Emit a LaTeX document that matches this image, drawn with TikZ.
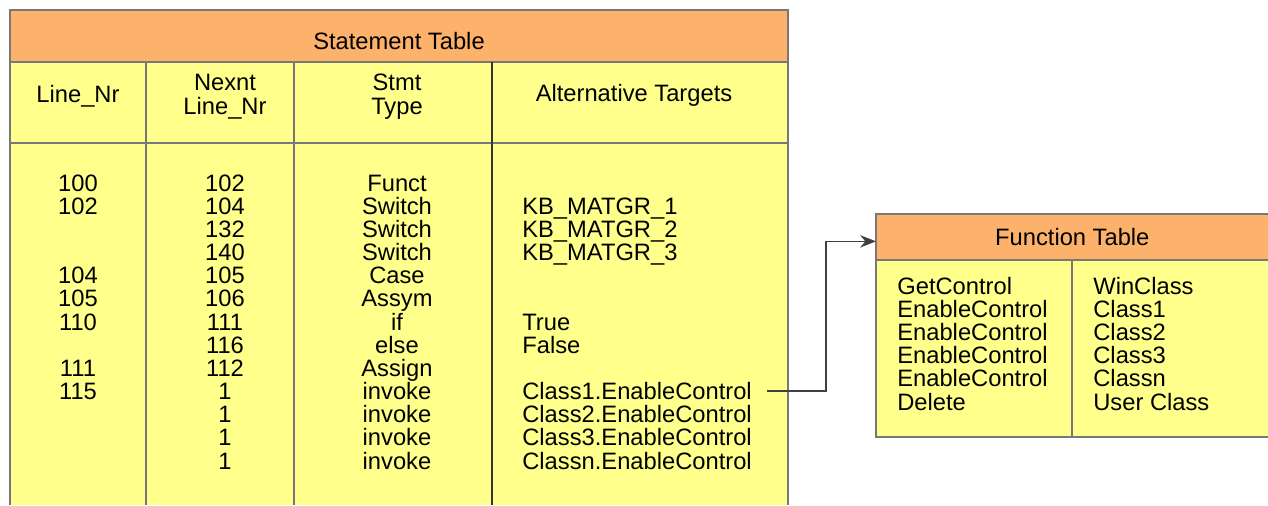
\documentclass[tikz,border=0pt]{standalone}
\usepackage{fontspec}
\setmainfont{Liberation Sans}
\usetikzlibrary{arrows.meta,positioning}
\definecolor{headorange}{RGB}{253,178,108}
\definecolor{bodyyellow}{RGB}{255,255,140}
\definecolor{rulegray}{RGB}{120,120,120}

\begin{document}
\begin{tikzpicture}[x=0.02cm, y=-0.02cm, >={Stealth[length=9pt,width=7pt]},
    cell/.style={anchor=base, inner sep=0pt, font=\fontsize{13.5}{13.6}\selectfont},
    colhead/.style={align=center, inner sep=0pt, font=\fontsize{13.5}{13.6}\selectfont},
    rule/.style={rulegray, line width=0.8pt}]
    \useasboundingbox (0,0) rectangle (1268,505);

    % Statement Table
    \fill[bodyyellow] (10,62) rectangle (788,505);
    \fill[headorange] (10,10) rectangle (788,62);
    \draw[rule] (10,505) -- (10,10) -- (788,10) -- (788,505);
    \draw[rule] (10,62) -- (788,62);
    \draw[rule] (10,143) -- (788,143);
    \draw[rule] (146,62) -- (146,505);
    \draw[rule] (294,62) -- (294,505);
    \draw[black!80, line width=1.2pt] (492,62) -- (492,505);

    \node[colhead] (sttitle) at (399,41) {Statement Table};
    \node[colhead] (hline) at (78,96) {Line\_Nr};
    \node[colhead] (hnext) at (225,97) {Nexnt\\Line\_Nr};
    \node[colhead] (htype) at (397,97) {Stmt\\Type};
    \node[colhead] (halt) at (634,95) {Alternative Targets};

    % Zeilen
    \foreach \ln/\nx/\st/\alt [count=\i] in {
        100/102/Funct/{},
        102/104/Switch/KB\_MATGR\_1,
        {}/132/Switch/KB\_MATGR\_2,
        {}/140/Switch/KB\_MATGR\_3,
        104/105/Case/{},
        105/106/Assym/{},
        110/111/if/True,
        {}/116/else/False,
        111/112/Assign/{},
        115/1/invoke/Class1.EnableControl,
        {}/1/invoke/Class2.EnableControl,
        {}/1/invoke/Class3.EnableControl,
        {}/1/invoke/Classn.EnableControl}
    {
        \pgfmathsetmacro\yb{191+23.17*(\i-1)}
        \node[cell] (ln\i) at (78,\yb) {\ln};
        \node[cell] (nx\i) at (225,\yb) {\nx};
        \node[cell] (st\i) at (397,\yb) {\st};
        \node[cell, anchor=base west] (alt\i) at (522,\yb) {\alt};
    }

    % Function Table
    \fill[bodyyellow] (876,260) rectangle (1268,437);
    \node[fill=headorange, anchor=north west, inner sep=0pt,
          minimum width=7.84cm, minimum height=0.92cm,
          font=\fontsize{13.5}{13.6}\selectfont] (fthead) at (876,214) {Function Table};
    \draw[rule] (1268,214) -- (876,214) -- (876,437) -- (1268,437);
    \draw[rule] (876,260) -- (1268,260);
    \draw[rule] (1072,260) -- (1072,437);

    \foreach \fn/\cl [count=\k] in {
        GetControl/WinClass,
        EnableControl/Class1,
        EnableControl/Class2,
        EnableControl/Class3,
        EnableControl/Classn,
        Delete/User Class}
    {
        \pgfmathsetmacro\yb{294+23.2*(\k-1)}
        \node[cell, anchor=base west] (fn\k) at (897,\yb) {\fn};
        \node[cell, anchor=base west] (cl\k) at (1093,\yb) {\cl};
    }

    % Verweis
    \coordinate (bend) at (826,0);
    \draw[->, black!75, line width=0.7pt] ([xshift=0.3cm]alt10.east) -- (alt10.east -| bend) |- ([yshift=-0.08cm]fthead.west);
\end{tikzpicture}
\end{document}
